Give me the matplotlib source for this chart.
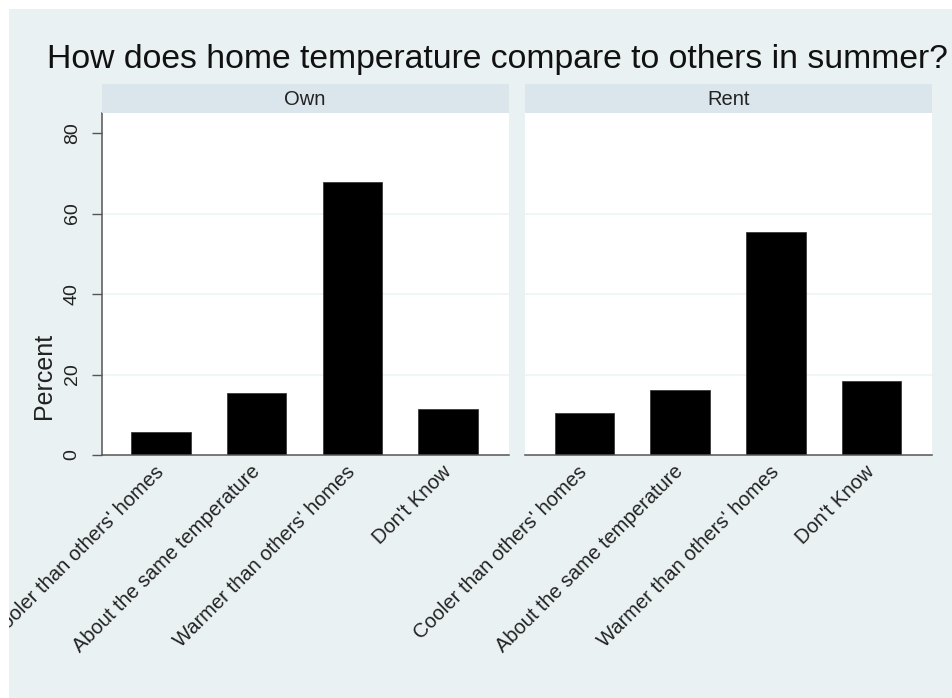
import matplotlib
matplotlib.use("Agg")
import matplotlib.pyplot as plt
from matplotlib.patches import Rectangle

# values (percent)
categories = ["Cooler than others' homes", "About the same temperature",
              "Warmer than others' homes", "Don't Know"]
panels = ["Own", "Rent"]
own_pct = [5.8, 15.3, 67.8, 11.5]
rent_pct = [10.5, 16.2, 55.4, 18.3]
yticks = [0, 20, 40, 60, 80]

title = "How does home temperature compare to others in summer?"
ylabel = "Percent"

W, H = 952, 698
bg_col = '#e9f1f2'
strip_col = '#dae6eb'
axis_col = '#555555'
grid_col = '#eef3f4'

plt.rcParams['font.family'] = ['Liberation Sans', 'DejaVu Sans']

fig = plt.figure(figsize=(W / 100, H / 100), dpi=100)
fig.patch.set_facecolor('white')

def px(x0, y0, w, h):
    # pixel box (top-left origin) -> figure fraction
    return [x0 / W, (H - y0 - h) / H, w / W, h / H]

# graph background, leaving the thin white margin top/left
fig.add_artist(Rectangle((9 / W, 0), 1, (H - 9) / H, transform=fig.transFigure,
                         facecolor=bg_col, edgecolor='none', zorder=-1))

plot_top, plot_bot = 113, 455
lefts = [101.5, 525]
pw = 407

for i, (name, vals) in enumerate(zip(panels, [own_pct, rent_pct])):
    ax = fig.add_axes(px(lefts[i], plot_top, pw, plot_bot - plot_top))
    ax.set_facecolor('white')
    xs = list(range(len(categories)))
    for v in yticks[1:-1]:
        ax.axhline(v, color=grid_col, lw=1.2, zorder=0)
    ax.bar(xs, vals, width=0.62, color='black', edgecolor='#3a3a3a', lw=0.6, zorder=2)
    ax.set_xlim(-0.62, 3.63)
    ax.set_ylim(0, 85)
    for s in ['top', 'right']:
        ax.spines[s].set_visible(False)
    ax.spines['bottom'].set_color(axis_col)
    ax.spines['bottom'].set_linewidth(1.1)
    ax.set_xticks(xs)
    ax.set_xticklabels(categories, rotation=45, ha='right', va='center',
                       rotation_mode='anchor', fontsize=14.5, color='#222222')
    ax.tick_params(axis='x', length=0, pad=10)
    ax.set_yticks(yticks)
    if i == 0:
        ax.spines['left'].set_color(axis_col)
        ax.spines['left'].set_linewidth(1.1)
        ax.set_yticklabels([str(t) for t in yticks], rotation=90, va='center',
                           fontsize=14, color='#222222')
        ax.tick_params(axis='y', length=7, width=1, color=axis_col, pad=8)
    else:
        ax.spines['left'].set_visible(False)
        ax.tick_params(axis='y', left=False, labelleft=False)

    # panel header strip
    sax = fig.add_axes(px(lefts[i], 84, pw, 29))
    sax.set_facecolor(strip_col)
    sax.set_xticks([])
    sax.set_yticks([])
    for s in sax.spines.values():
        s.set_visible(False)
    sax.text(0.5, 0.47, name, ha='center', va='center', fontsize=14.5, color='#222222',
             transform=sax.transAxes)

fig.text(497.5 / W, (H - 68) / H, title, ha='center', va='baseline', fontsize=24.3,
         color='#111111')
fig.text(44 / W, (H - 376) / H, ylabel, rotation=90, ha='center', va='center',
         fontsize=18, color='#222222')

# white margin on top and left clips the overflowing tick label
fig.add_artist(Rectangle((0, 0), 9 / W, 1, transform=fig.transFigure,
                         facecolor='white', edgecolor='none', zorder=10))
fig.add_artist(Rectangle((0, (H - 9) / H), 1, 9 / H, transform=fig.transFigure,
                         facecolor='white', edgecolor='none', zorder=10))

fig.savefig('out.png', dpi=100, facecolor='white')
